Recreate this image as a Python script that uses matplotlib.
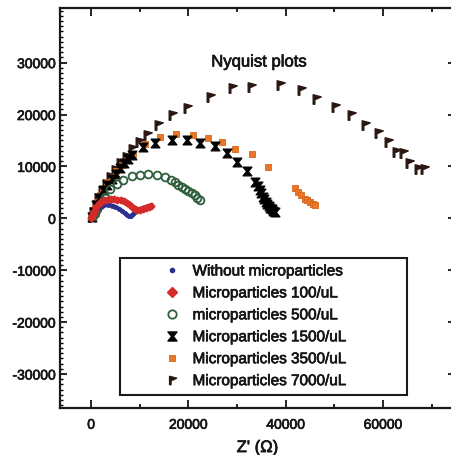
import matplotlib
matplotlib.use("Agg")
import matplotlib.pyplot as plt
import matplotlib.patheffects as pe
from matplotlib.path import Path
from matplotlib.ticker import MultipleLocator

plt.rcParams['font.family'] = ['Liberation Sans', 'DejaVu Sans']

# ---------------- data ----------------
labels = ["Without microparticles", "Microparticles 100/uL", "microparticles 500/uL",
          "Microparticles 1500/uL", "Microparticles 3500/uL", "Microparticles 7000/uL"]

x_without = [0, 200, 500, 900, 1400, 2000, 2700, 3500, 4300, 5000, 5700, 6300, 6900,
             7400, 7800, 8200, 8600, 9000, 9400]
y_without = [0, 400, 900, 1400, 1900, 2300, 2550, 2600, 2450, 2200, 1850, 1450, 1000,
             600, 350, 450, 800, 1200, 1600]

x_100 = [0, 300, 700, 1100, 1600, 2100, 2700, 3300, 4000, 4700, 5400, 6100, 6800, 7400,
         8000, 8500, 9000, 9500, 10000, 10600, 11200, 11800, 12300]
y_100 = [0, 700, 1500, 2200, 2800, 3200, 3500, 3600, 3650, 3650, 3550, 3450, 3250, 3000,
         2600, 2200, 1800, 1600, 1650, 1850, 2050, 2250, 2350]

x_500 = [300, 700, 1200, 1800, 2400, 2900, 3900, 5300, 6600, 8350, 10050, 11750, 13500,
         15200, 16500, 17300, 17900, 18600, 19300, 20000, 20700, 21300, 21800, 22300]
y_500 = [400, 1000, 1700, 2500, 3300, 4100, 5700, 6700, 7350, 8100, 8300, 8500, 8300,
         7900, 7400, 6900, 6400, 6000, 5700, 5200, 4800, 4400, 4000, 3500]

x_1500 = [200, 600, 1100, 1700, 2500, 3300, 4200, 5100, 5950, 6800, 7660, 8350, 10730,
          13130, 16550, 19630, 22360, 25440, 27840, 29890, 31940, 33640, 34300, 34700,
          35000, 35300, 35600, 35900, 36200, 36500, 36800, 37100, 37400, 37700]
y_1500 = [300, 1200, 2500, 3900, 5400, 6400, 7500, 8600, 9600, 10700, 11500, 12190, 13790,
          14560, 15090, 15090, 14560, 13930, 12510, 10770, 9150, 7020, 6200, 5400,
          4800, 4200, 3700, 3200, 2800, 2400, 2000, 1700, 1400, 1200]

x_3500 = [0, 300, 700, 1200, 1800, 2500, 3300, 4200, 5200, 6300, 7400, 8680, 11080, 14150,
          17440, 20860, 24060, 26810, 29540, 33170, 36370, 41850, 42530, 43220, 43900,
          44400, 44920, 45600, 45950]
y_3500 = [0, 800, 1900, 3100, 4400, 5700, 6900, 8000, 9100, 10200, 11300, 12300, 14310,
          15730, 16250, 16050, 15530, 14760, 13350, 12380, 9920, 5860, 5090, 4450, 3810,
          3500, 3150, 2710, 2500]

x_7000 = [100, 400, 900, 1500, 2200, 3000, 3900, 4900, 6000, 7200, 8500, 9900, 11430,
          13800, 16550, 19630, 24410, 28860, 32960, 38770, 43220, 46300, 50050, 53480,
          56210, 58930, 60980, 62710, 64060, 65440, 67140, 68510]
y_7000 = [200, 1200, 2500, 3900, 5300, 6700, 8000, 9300, 10600, 11900, 13300, 14700, 16050,
          17990, 19920, 21220, 23460, 25090, 25280, 25730, 24760, 22960, 21530, 19920,
          17990, 16380, 14760, 12820, 12510, 10580, 9420, 9420]

title = "Nyquist plots"
xlabel = "Z' (\u03a9)"
xticks = [0, 20000, 40000, 60000]
yticks = [-30000, -20000, -10000, 0, 10000, 20000, 30000]

# ---------------- custom markers ----------------
hourglass = Path([(-1, 1), (1, 1), (0.18, 0), (1, -1), (-1, -1), (-0.18, 0), (-1, 1)],
                 [Path.MOVETO] + [Path.LINETO] * 5 + [Path.CLOSEPOLY])
flag = Path([(-0.7, -1), (-0.7, 1), (1, 0.55), (-0.1, 0.05), (-0.35, 0.05), (-0.35, -1), (-0.7, -1)],
            [Path.MOVETO] + [Path.LINETO] * 5 + [Path.CLOSEPOLY])

TXT = '#161616'
heavy = [pe.withStroke(linewidth=0.5, foreground=TXT)]

# ---------------- figure ----------------
W, H = 452, 455
fig = plt.figure(figsize=(W / 100, H / 100), dpi=100)
ax = fig.add_axes([60 / W, (H - 408) / H, 395 / W, 400 / H])

h7000, = ax.plot(x_7000, y_7000, ls='none', marker=flag, ms=6.8, color='#2a1712',
                 mec='#2a1712', label=labels[5])
h3500, = ax.plot(x_3500, y_3500, ls='none', marker='s', ms=4.5, color='#e8772a',
                 mec='#d8651a', mew=0.6, label=labels[4])
h1500, = ax.plot(x_1500, y_1500, ls='none', marker=hourglass, ms=6.2, color='black',
                 label=labels[3])
h500, = ax.plot(x_500, y_500, ls='none', marker='o', ms=5.6, mfc='none', mec='#2e5e3c',
                mew=1.3, label=labels[2])
hwo, = ax.plot(x_without, y_without, ls='-', lw=3, marker='o', ms=2.5, color='#2b2f8f',
               label=labels[0])
h100, = ax.plot(x_100, y_100, ls='-', lw=4, marker='D', ms=3.5, color='#d42a2a',
                label=labels[1])

ax.set_xlim(-6400, 74800)
ax.set_ylim(-36550, 40520)

ax.set_xticks(xticks)
ax.set_yticks(yticks)
ax.set_yticklabels([str(v) for v in yticks])
ax.xaxis.set_minor_locator(MultipleLocator(10000))
ax.yaxis.set_minor_locator(MultipleLocator(1000))

ax.tick_params(axis='both', which='major', direction='in', labelsize=10,
               labelcolor=TXT, width=1.2, length=6)
ax.tick_params(axis='y', which='major', pad=3, left=True, right=True, length=5)
ax.tick_params(axis='y', which='minor', direction='in', left=True, right=False,
               length=2.5, width=1)
ax.tick_params(axis='x', which='major', pad=7, top=True, bottom=True)
ax.tick_params(axis='x', which='minor', direction='in', bottom=True, top=True,
               length=3, width=1.2)
for t in ax.get_xticklabels() + ax.get_yticklabels():
    t.set_path_effects(heavy)

for s in ax.spines.values():
    s.set_linewidth(1.6)
    s.set_color('#1a1a1a')

ax.text(0.504, 0.865, title, transform=ax.transAxes, ha='center', va='center',
        fontsize=12, color=TXT, path_effects=heavy)
ax.set_xlabel(xlabel, fontsize=12, color=TXT, labelpad=6, path_effects=heavy)

leg = ax.legend(handles=[hwo, h100, h500, h1500, h3500, h7000],
                loc='lower left', bbox_to_anchor=(0.1519, 0.0325, 0.7266, 0.345),
                mode='expand', borderaxespad=0, fontsize=11, frameon=True,
                fancybox=False, edgecolor='#1a1a1a', framealpha=1,
                borderpad=0.45, labelspacing=0.52, handlelength=5.9,
                handletextpad=-1.6, numpoints=1)
leg.get_frame().set_linewidth(1.5)
for t in leg.get_texts():
    t.set_color(TXT)
    t.set_path_effects(heavy)
for lh in leg.legend_handles:
    lh.set_linestyle('none')
leg.legend_handles[0].set_markersize(3)
leg.legend_handles[1].set_markersize(5.5)
leg.legend_handles[2].set_markersize(6)
leg.legend_handles[3].set_markersize(6.5)
leg.legend_handles[4].set_markersize(5)
leg.legend_handles[5].set_markersize(6)

fig.savefig("out.png", dpi=100)
